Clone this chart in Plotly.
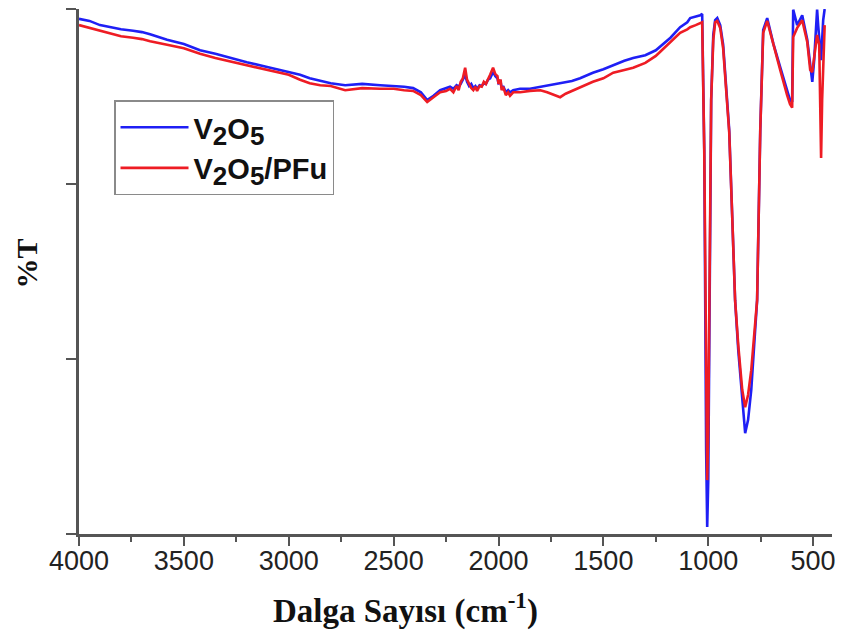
import plotly.graph_objects as go

# FTIR transmittance spectra (wavenumber in cm-1, %T)
v2o5_wn = [4000, 3950, 3900, 3850, 3800, 3742, 3700, 3661, 3620, 3580, 3500, 3423, 3350, 3266,
           3200, 3103, 3000, 2946, 2900, 2850, 2800, 2731, 2650, 2564, 2500, 2450, 2407, 2370,
           2340, 2310, 2278, 2250, 2231, 2215, 2200, 2190, 2180, 2170, 2159, 2150, 2140, 2130,
           2120, 2110, 2102, 2090, 2080, 2070, 2060, 2050, 2040, 2026, 2015, 2005, 2000, 1990,
           1985, 1978, 1965, 1954, 1945, 1930, 1897, 1850, 1800, 1768, 1706, 1650, 1611, 1550,
           1500, 1453, 1400, 1358, 1300, 1250, 1229, 1180, 1134, 1100, 1086, 1060, 1038, 1029,
           1019, 1010, 1005, 1000, 995, 986, 976, 967, 957, 943, 929, 914, 900, 886, 872, 857,
           838, 824, 810, 795, 781, 767, 752, 738, 719, 690, 657, 624, 610, 600, 595, 576, 552,
           528, 514, 504, 495, 490, 481, 476, 471, 462, 452, 445]
v2o5_t = [98.6, 98.3, 97.7, 97.4, 97.1, 96.9, 96.7, 96.4, 96.0, 95.6, 95.0, 94.1, 93.6, 92.9,
          92.4, 91.7, 91.0, 90.6, 90.1, 89.7, 89.4, 89.1, 89.3, 89.1, 89.0, 88.9, 88.7, 88.1,
          87.0, 87.6, 88.4, 88.7, 88.9, 88.6, 89.1, 88.9, 89.3, 89.9, 90.6, 89.6, 89.0, 89.3,
          88.7, 89.0, 88.6, 89.1, 89.0, 89.4, 89.3, 89.9, 90.1, 91.0, 90.4, 90.1, 89.4, 89.6,
          88.7, 89.0, 88.1, 88.4, 88.1, 88.4, 88.6, 88.6, 88.9, 89.0, 89.4, 89.7, 90.1, 90.9,
          91.4, 92.0, 92.6, 93.0, 93.4, 94.1, 94.6, 95.9, 97.4, 98.1, 98.7, 98.9, 99.1, 99.3,
          79.9, 37.0, 26.0, 32.7, 58.4, 87.0, 96.3, 98.4, 98.7, 97.7, 94.9, 88.4, 82.7, 70.6,
          58.4, 51.3, 44.1, 39.4, 41.3, 45.6, 52.0, 58.4, 82.7, 97.0, 98.7, 95.1, 91.7, 88.4,
          87.0, 86.7, 99.9, 97.7, 99.1, 95.6, 91.7, 89.6, 92.7, 95.6, 99.9, 97.7, 95.6, 92.7,
          98.4, 100.0]

pfu_wn = [4000, 3950, 3900, 3850, 3800, 3742, 3700, 3661, 3620, 3580, 3500, 3423, 3350, 3266,
          3200, 3103, 3000, 2946, 2900, 2850, 2800, 2731, 2650, 2564, 2500, 2450, 2407, 2370,
          2340, 2310, 2278, 2250, 2231, 2215, 2200, 2190, 2180, 2170, 2159, 2150, 2140, 2130,
          2120, 2110, 2102, 2090, 2080, 2070, 2060, 2050, 2040, 2026, 2015, 2005, 2000, 1990,
          1985, 1978, 1965, 1954, 1945, 1930, 1897, 1850, 1800, 1768, 1706, 1680, 1650, 1611,
          1550, 1500, 1453, 1400, 1358, 1300, 1250, 1229, 1180, 1134, 1100, 1086, 1060, 1038,
          1029, 1019, 1010, 1005, 1000, 995, 986, 976, 967, 957, 943, 929, 914, 900, 886, 872,
          857, 838, 824, 810, 795, 781, 767, 752, 738, 719, 690, 657, 624, 610, 600, 595, 576,
          552, 528, 514, 504, 495, 490, 481, 471, 466, 462, 457, 452, 445]
pfu_t = [97.7, 97.3, 96.9, 96.6, 96.1, 95.9, 95.7, 95.4, 95.1, 94.9, 94.4, 93.6, 93.0, 92.4,
         92.0, 91.3, 90.6, 89.9, 89.4, 89.1, 89.0, 88.4, 88.7, 88.6, 88.6, 88.4, 88.3, 87.7,
         86.7, 87.4, 88.1, 88.3, 88.6, 88.1, 89.0, 88.4, 89.6, 90.1, 91.6, 89.9, 89.3, 88.7,
         88.4, 88.9, 88.3, 89.0, 88.9, 89.6, 89.3, 90.1, 90.6, 91.6, 90.7, 90.4, 89.3, 89.9,
         88.4, 88.9, 87.7, 88.1, 87.6, 88.1, 88.1, 88.3, 88.4, 88.1, 87.4, 87.9, 88.3, 88.9,
         89.6, 90.1, 90.9, 91.3, 91.6, 92.3, 93.3, 93.9, 95.3, 96.6, 97.1, 97.4, 97.7, 98.0,
         98.1, 79.9, 41.3, 32.7, 39.9, 58.4, 87.0, 95.6, 98.1, 98.3, 97.3, 94.4, 88.1, 82.4,
         70.6, 58.4, 52.0, 45.6, 43.1, 44.9, 48.4, 53.4, 58.4, 82.7, 96.6, 98.3, 94.9, 91.3,
         87.7, 86.4, 85.9, 96.0, 97.3, 98.4, 95.3, 91.3, 91.0, 93.4, 94.1, 96.3, 94.9, 87.0,
         78.7, 87.0, 92.7, 97.7]

x_ticks = [4000, 3500, 3000, 2500, 2000, 1500, 1000, 500]
x_minor = [3750, 3250, 2750, 2250, 1750, 1250, 750]
y_ticks = [25, 50, 75, 100]

axis_color = "#555555"
label_font = dict(family="Liberation Sans, Arial, sans-serif", size=27, color="#222222")
serif_bold = dict(family="Liberation Serif, Times New Roman, serif", color="#111111",
                  weight="bold")


def chem(main, sub):
    # subscripts kept close to full size
    return f"{main}<sub><span style='font-size:26px'>{sub}</span></sub>"


name_v2o5 = chem("V", "2") + chem("O", "5")
name_pfu = name_v2o5 + "/PFu"

fig = go.Figure()
fig.add_trace(go.Scatter(
    x=v2o5_wn, y=v2o5_t, mode="lines", name=name_v2o5,
    legendgroup="a", line=dict(color="#1f1ff5", width=2.6)))
fig.add_trace(go.Scatter(
    x=pfu_wn, y=pfu_t, mode="lines", name=name_pfu,
    legendgroup="b", line=dict(color="#ee1c24", width=2.6)))

fig.update_layout(
    width=845, height=644,
    margin=dict(l=79, r=13, t=9, b=110),
    paper_bgcolor="white", plot_bgcolor="white",
    showlegend=True,
    legend=dict(
        x=0.0465, y=0.826, xanchor="left", yanchor="top",
        bgcolor="white", bordercolor="#8a8a8a", borderwidth=1.5,
        font=dict(family="Liberation Sans, Arial, sans-serif", size=29, color="#111111",
                  weight="bold"),
        itemwidth=68, tracegroupgap=0,
    ),
    annotations=[
        dict(text="Dalga Sayısı (cm<sup>-1</sup>)", xref="paper", yref="paper",
             x=0.434, y=-0.141, xanchor="center", yanchor="middle", showarrow=False,
             font=dict(size=33, **serif_bold)),
        dict(text="%T", xref="paper", yref="paper", textangle=-90,
             x=-0.07, y=0.516, xanchor="center", yanchor="middle", showarrow=False,
             font=dict(size=30, **serif_bold)),
    ],
)
fig.update_xaxes(
    range=[4000, 410], tickmode="array", tickvals=x_ticks,
    ticks="outside", ticklen=9, tickwidth=2, tickcolor=axis_color,
    minor=dict(ticks="outside", ticklen=5, tickwidth=2, tickcolor=axis_color,
               tickmode="array", tickvals=x_minor),
    showline=True, linecolor=axis_color, linewidth=2.5,
    showgrid=False, zeroline=False, tickfont=label_font, ticklabelstandoff=-8,
)
fig.update_yaxes(
    range=[25, 100], tickmode="array", tickvals=y_ticks, showticklabels=False,
    ticks="outside", ticklen=10, tickwidth=2, tickcolor=axis_color,
    showline=True, linecolor=axis_color, linewidth=2.5,
    showgrid=False, zeroline=False,
)

fig.write_html("out.html")
